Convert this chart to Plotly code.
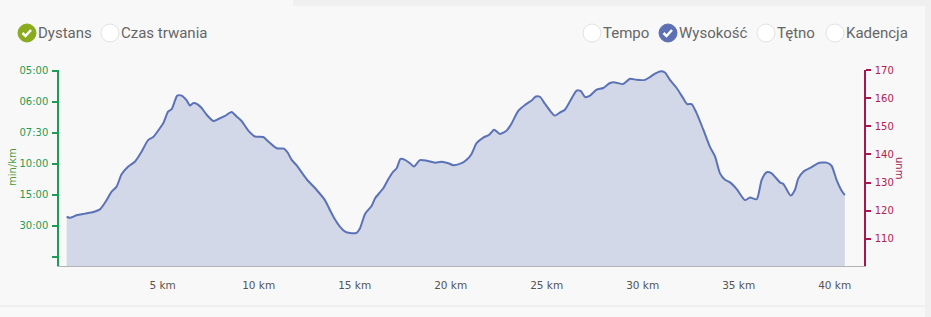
import plotly.graph_objects as go

# ---- data ----
km = [0.00, 0.17, 0.52, 0.95, 1.39, 1.73, 2.08, 2.34, 2.60, 2.86, 3.21, 3.56, 3.90, 4.25,
      4.51, 4.86, 5.03, 5.29, 5.47, 5.76, 5.99, 6.25, 6.42, 6.60, 6.80, 7.03, 7.29, 7.64,
      7.90, 8.25, 8.59, 8.85, 9.11, 9.46, 9.81, 10.24, 10.50, 10.94, 11.32, 11.51, 11.72,
      11.98, 12.50, 13.02, 13.45, 13.71, 13.97, 14.24, 14.50, 14.76, 15.10, 15.28, 15.54,
      15.88, 16.06, 16.49, 16.75, 17.01, 17.19, 17.39, 17.62, 17.88, 18.09, 18.40, 18.75,
      19.18, 19.53, 19.88, 20.14, 20.57, 20.83, 21.09, 21.35, 21.70, 22.01, 22.26, 22.57,
      22.92, 23.18, 23.52, 23.87, 24.22, 24.44, 24.65, 24.91, 25.17, 25.43, 25.69, 25.95,
      26.21, 26.56, 26.77, 27.00, 27.26, 27.60, 27.95, 28.30, 28.56, 28.99, 29.34, 29.69,
      30.12, 30.38, 30.64, 30.90, 31.16, 31.42, 31.77, 32.11, 32.32, 32.55, 32.81, 33.16,
      33.51, 33.77, 34.03, 34.29, 34.55, 34.90, 35.33, 35.59, 35.94, 36.20, 36.46, 36.72,
      37.15, 37.33, 37.71, 37.93, 38.11, 38.37, 38.80, 39.14, 39.58, 39.84, 40.10, 40.36,
      40.53]
elevation = [117.9, 117.5, 118.4, 119.0, 119.6, 120.5, 123.8, 126.8, 128.6, 133.0, 135.7,
             137.5, 141.0, 145.2, 146.2, 149.4, 151.1, 155.3, 156.1, 160.9, 160.9, 159.2,
             157.4, 158.3, 157.9, 156.5, 154.1, 151.9, 152.6, 153.7, 155.1, 153.5, 151.9,
             148.5, 146.4, 146.2, 144.6, 142.2, 142.1, 140.7, 138.1, 136.1, 131.2, 127.4,
             123.8, 120.3, 117.0, 114.3, 112.6, 112.1, 112.2, 113.8, 118.9, 121.7, 124.4,
             128.0, 131.2, 133.9, 135.1, 138.4, 138.1, 136.9, 135.7, 138.0, 137.8, 137.1,
             137.4, 136.9, 136.2, 136.9, 138.1, 140.2, 144.0, 146.0, 147.0, 148.8, 147.3,
             148.5, 151.1, 155.5, 157.6, 159.2, 160.6, 160.5, 158.0, 155.6, 153.8, 154.9,
             155.9, 158.8, 162.7, 162.6, 160.4, 160.9, 163.0, 163.6, 165.4, 165.6, 165.0,
             166.9, 166.5, 166.5, 167.5, 168.7, 169.5, 169.1, 166.5, 163.6, 160.0, 157.9,
             157.9, 154.7, 148.8, 142.6, 139.3, 133.3, 131.0, 130.1, 127.7, 123.8, 124.7,
             124.1, 131.0, 133.7, 133.3, 130.1, 129.5, 125.4, 127.4, 131.5, 133.9, 135.5,
             136.9, 137.1, 136.0, 131.0, 127.2, 125.6]

x_ticks = [5, 10, 15, 20, 25, 30, 35, 40]
x_labels = ["5 km", "10 km", "15 km", "20 km", "25 km", "30 km", "35 km", "40 km"]
pace_ticks = [0, 1, 2, 3, 4, 5, 6]
pace_labels = ["05:00", "06:00", "07:30", "10:00", "15:00", "30:00", ""]
elev_ticks = [110, 120, 130, 140, 150, 160, 170]

left_buttons = [("Dystans", True), ("Czas trwania", False)]
right_buttons = [("Tempo", False), ("Wysokość", True), ("Tętno", False), ("Kadencja", False)]

# ---- layout geometry (pixels) ----
W, H = 931, 317
L, R, T, B = 59, 864, 70, 266
pw, ph = R - L, B - T


def px(x):
    return (x - L) / pw


def py(y):
    return (B - y) / ph


GREEN_AX = "#1e9b57"
RED_AX = "#a5174d"
TEXT = "#666666"

fig = go.Figure()
fig.add_trace(go.Scatter(x=[None], y=[None], yaxis="y", showlegend=False, hoverinfo="skip"))
fig.add_trace(go.Scatter(
    x=km, y=elevation, yaxis="y2", mode="lines",
    line=dict(color="#5b72b6", width=2, shape="spline", smoothing=0.6),
    fill="tozeroy", fillcolor="#d3d8e8", showlegend=False))

shapes = []
annotations = []

# background strips / separators
shapes.append(dict(type="rect", xref="paper", yref="paper", x0=px(293), x1=px(925), y0=py(0), y1=py(6),
                   fillcolor="#f0f0f0", line=dict(width=0), layer="below"))
shapes.append(dict(type="rect", xref="paper", yref="paper", x0=px(925), x1=px(931), y0=py(0), y1=py(317),
                   fillcolor="#f0f0f0", line=dict(width=0), layer="below"))
shapes.append(dict(type="line", xref="paper", yref="paper", x0=px(0), x1=px(925), y0=py(306), y1=py(306),
                   line=dict(color="#e6e6e6", width=1), layer="below"))


def button(cx, cy, label, on, color):
    r = 9
    shapes.append(dict(type="circle", xref="paper", yref="paper",
                       x0=px(cx - r), x1=px(cx + r), y0=py(cy + r), y1=py(cy - r),
                       fillcolor=color if on else "#ffffff",
                       line=dict(color=color if on else "#e2e2e2", width=1)))
    if on:
        path = "M {} {} L {} {} L {} {}".format(px(cx - 4.5), py(cy), px(cx - 1.5), py(cy + 3),
                                                 px(cx + 4), py(cy - 3))
        shapes.append(dict(type="path", xref="paper", yref="paper", path=path,
                           line=dict(color="#ffffff", width=2.5)))
    annotations.append(dict(x=px(cx + 9), y=py(cy), xref="paper", yref="paper", text=label,
                            showarrow=False, xanchor="left", yanchor="middle",
                            font=dict(family="Roboto", size=15, color=TEXT)))


button(27, 33, left_buttons[0][0], left_buttons[0][1], "#8aab1e")
button(110, 33, left_buttons[1][0], left_buttons[1][1], "#8aab1e")
for cx, (lab, on) in zip([592, 668, 766, 835], right_buttons):
    button(cx, 33, lab, on, "#5e70b4")

annotations.append(dict(x=px(12), y=py(167), xref="paper", yref="paper", text="min/km",
                        showarrow=False, textangle=-90, xanchor="center", yanchor="middle",
                        font=dict(family="DejaVu Sans", size=10, color="#4e9a3c")))
annotations.append(dict(x=px(900), y=py(168), xref="paper", yref="paper", text="unm",
                        showarrow=False, textangle=90, xanchor="center", yanchor="middle",
                        font=dict(family="DejaVu Sans", size=10, color=RED_AX)))

fig.update_layout(
    width=W, height=H,
    margin=dict(l=L, r=W - R, t=T, b=H - B, pad=0),
    paper_bgcolor="#f8f8f8", plot_bgcolor="#f8f8f8",
    showlegend=False,
    xaxis=dict(range=[-0.40, 41.53], tickvals=x_ticks, ticktext=x_labels, showgrid=False,
               zeroline=False, showline=True, linecolor="#b4b4b4", linewidth=1, ticks="",
               ticklabelstandoff=9,
               tickfont=dict(family="DejaVu Sans", size=10.5, color="#555555")),
    yaxis=dict(range=[6.30, -0.02], tickvals=pace_ticks, ticktext=pace_labels, showgrid=False,
               zeroline=False, showline=True, linecolor=GREEN_AX, linewidth=1.5, ticks="outside",
               ticklen=5, tickcolor=GREEN_AX, tickwidth=1.5, ticklabelstandoff=2,
               tickfont=dict(family="DejaVu Sans", size=10, color="#2a9a50")),
    yaxis2=dict(range=[100.4, 170], tickvals=elev_ticks, overlaying="y", side="right",
                showgrid=False, zeroline=False, showline=True, linecolor=RED_AX, linewidth=1.5,
                ticks="outside", ticklen=5, tickcolor=RED_AX, tickwidth=1.5, ticklabelstandoff=2,
                tickfont=dict(family="DejaVu Sans", size=10, color="#b0214f")),
    shapes=shapes, annotations=annotations,
)

fig.write_html("out.html")
